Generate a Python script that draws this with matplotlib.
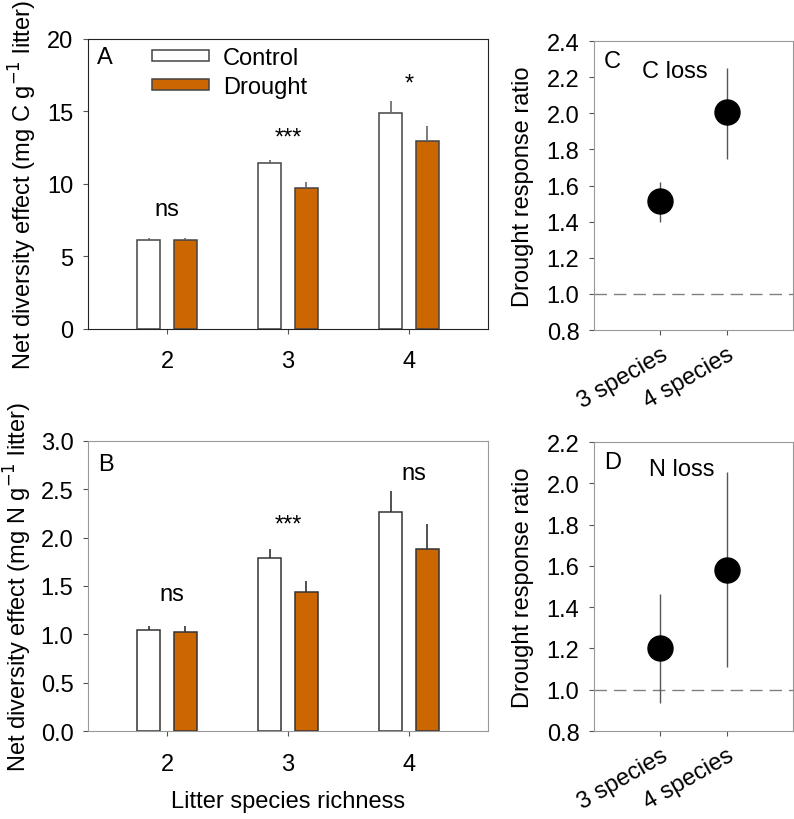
import matplotlib.pyplot as plt
import numpy as np

plt.rcParams['font.family'] = ['Liberation Sans', 'DejaVu Sans']
plt.rcParams['font.size'] = 17

# data
richness = [2, 3, 4]
c_control = [6.16, 11.42, 14.87]
c_control_se = [0.14, 0.24, 0.83]
c_drought = [6.12, 9.75, 12.97]
c_drought_se = [0.18, 0.39, 1.03]
c_sig = ['ns', '***', '*']
c_sig_y = [8.3, 13.2, 16.9]

n_control = [1.04, 1.79, 2.27]
n_control_se = [0.05, 0.09, 0.21]
n_drought = [1.02, 1.44, 1.88]
n_drought_se = [0.07, 0.11, 0.26]
n_sig = ['ns', '***', 'ns']
n_sig_y = [1.42, 2.14, 2.67]

groups = ['3 species', '4 species']
c_ratio = [1.513, 2.005]
c_ratio_low = [1.40, 1.747]
c_ratio_high = [1.62, 2.25]
n_ratio = [1.20, 1.58]
n_ratio_low = [0.936, 1.109]
n_ratio_high = [1.464, 2.053]

orange = '#CC6600'
fs = 17
fig = plt.figure(figsize=(7.94, 8.20), dpi=100)
axA = fig.add_axes([0.1108, 0.5976, 0.5038, 0.3537])
axB = fig.add_axes([0.1108, 0.1073, 0.5038, 0.3537])
axC = fig.add_axes([0.7481, 0.5963, 0.2506, 0.3524])
axD = fig.add_axes([0.7481, 0.1073, 0.2506, 0.3524])

x = np.array(richness)
w = 0.19
off = 0.15


def bars(ax, ctl, ctl_se, dr, dr_se, edge, errc):
    ax.bar(x - off, ctl, w, color='white', edgecolor=edge, linewidth=1.1,
           yerr=[np.zeros(3), ctl_se], error_kw=dict(ecolor=errc, elinewidth=1.2, capsize=0),
           label='Control', zorder=2)
    ax.bar(x + off, dr, w, color=orange, edgecolor=edge, linewidth=1.1,
           yerr=[np.zeros(3), dr_se], error_kw=dict(ecolor=errc, elinewidth=1.2, capsize=0),
           label='Drought', zorder=2)
    ax.set_xlim(1.347, 4.653)
    ax.set_xticks(richness)
    ax.tick_params(direction='out', length=3.5, color='#555555', labelsize=fs)
    ax.tick_params(axis='x', pad=12)
    ax.tick_params(axis='y', pad=7)


bars(axA, c_control, c_control_se, c_drought, c_drought_se, '#444444', '#666666')
axA.set_ylim(0, 20)
axA.set_yticks([0, 5, 10, 15, 20])
for s in axA.spines.values():
    s.set_color('#222222')
for xi, t, yi in zip(richness, c_sig, c_sig_y):
    axA.text(xi, yi, t, ha='center', va='center', fontsize=fs)
axA.text(0.022, 0.938, 'A', transform=axA.transAxes, ha='left', va='center', fontsize=fs)
axA.set_ylabel('Net diversity effect (mg C g$^{-1}$ litter)', fontsize=fs, labelpad=6)
axA.legend(loc='upper left', bbox_to_anchor=(0.125, 1.02), frameon=False,
           handlelength=2.4, handleheight=0.35, handletextpad=0.6, labelspacing=0.3,
           fontsize=fs, borderaxespad=0.2)

bars(axB, n_control, n_control_se, n_drought, n_drought_se, '#333333', '#333333')
axB.set_ylim(0, 3)
axB.set_yticks(np.arange(0, 3.01, 0.5))
axB.set_yticklabels(['0.0', '0.5', '1.0', '1.5', '2.0', '2.5', '3.0'])
for s in axB.spines.values():
    s.set_color('#999999')
for xi, t, yi in zip(richness, n_sig, n_sig_y):
    axB.text(xi + (0.04 if t == 'ns' else 0), yi, t, ha='center', va='center', fontsize=fs)
axB.text(0.025, 0.92, 'B', transform=axB.transAxes, ha='left', va='center', fontsize=fs)
axB.set_ylabel('Net diversity effect (mg N g$^{-1}$ litter)', fontsize=fs, labelpad=5)
axB.set_xlabel('Litter species richness', fontsize=fs, labelpad=11)


def ratio(ax, vals, low, high, ylim, yticks, letter, title, tx, ty):
    pos = np.arange(1, len(groups) + 1)
    ax.vlines(pos, low, high, color='#555555', linewidth=1, zorder=2)
    ax.plot(pos, vals, 'o', color='black', markersize=18, zorder=3)
    ax.axhline(1.0, color='#808080', linewidth=1, dashes=(9, 5), zorder=1)
    ax.set_xlim(0, 3)
    ax.set_ylim(*ylim)
    ax.set_yticks(yticks)
    ax.set_yticklabels(['%.1f' % v for v in yticks])
    ax.set_xticks(pos)
    ax.set_xticklabels(groups, rotation=30, ha='right', rotation_mode='anchor')
    ax.tick_params(direction='out', length=3.5, color='#555555', labelsize=fs)
    ax.tick_params(axis='y', pad=7)
    ax.tick_params(axis='x', pad=6)
    for s in ax.spines.values():
        s.set_color('#999999')
    ax.set_ylabel('Drought response ratio', fontsize=fs, labelpad=9)
    ax.text(0.05, 0.93, letter, transform=ax.transAxes, ha='left', va='center', fontsize=fs)
    ax.text(tx, ty, title, transform=ax.transAxes, ha='left', va='center', fontsize=fs)


ratio(axC, c_ratio, c_ratio_low, c_ratio_high, (0.8, 2.4),
      [0.8, 1.0, 1.2, 1.4, 1.6, 1.8, 2.0, 2.2, 2.4], 'C', 'C loss', 0.24, 0.896)
ratio(axD, n_ratio, n_ratio_low, n_ratio_high, (0.8, 2.2),
      [0.8, 1.0, 1.2, 1.4, 1.6, 1.8, 2.0, 2.2], 'D', 'N loss', 0.276, 0.907)

fig.savefig('out.png', dpi=100)
